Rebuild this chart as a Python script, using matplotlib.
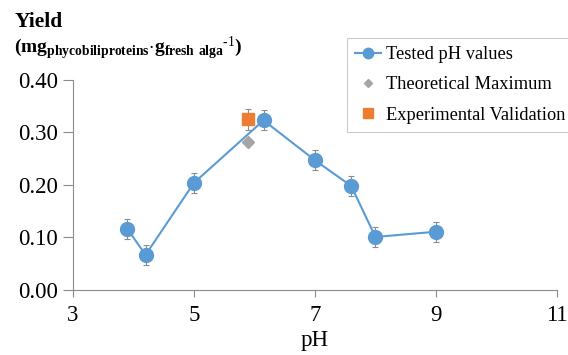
import matplotlib.pyplot as plt

plt.rcParams["font.family"] = "Liberation Serif"
plt.rcParams["mathtext.fontset"] = "custom"
plt.rcParams["mathtext.rm"] = "Liberation Serif"
plt.rcParams["mathtext.bf"] = "Liberation Serif:bold"

# data
ph_tested = [3.9, 4.2, 5.0, 6.15, 7.0, 7.6, 8.0, 9.0]
yield_tested = [0.116, 0.067, 0.204, 0.323, 0.247, 0.198, 0.101, 0.111]
err_tested = [0.019, 0.019, 0.019, 0.019, 0.019, 0.019, 0.019, 0.019]

ph_theo = [5.9]
yield_theo = [0.281]

ph_exp = [5.9]
yield_exp = [0.325]
err_exp = [0.020]

blue = "#5B9BD5"
orange = "#ED7D31"
grey = "#A5A5A5"

fig = plt.figure(figsize=(5.68, 3.55), dpi=100)
ax = fig.add_axes([0.1285, 0.183, 0.852, 0.592])

ax.errorbar(ph_tested, yield_tested, yerr=err_tested, fmt="none",
            ecolor="#8C8C8C", elinewidth=0.8, capsize=2.5, capthick=0.8, zorder=2)
ax.errorbar(ph_exp, yield_exp, yerr=err_exp, fmt="none",
            ecolor="#8C8C8C", elinewidth=0.8, capsize=2.5, capthick=0.8, zorder=2)
ax.plot(ph_tested, yield_tested, "-o", color=blue, lw=1.5, ms=10,
        label="Tested pH values", zorder=3)
ax.plot(ph_theo, yield_theo, "D", color=grey, ms=6, ls="none",
        label="Theoretical Maximum", zorder=3)
ax.plot(ph_exp, yield_exp, "s", color=orange, ms=9, ls="none",
        label="Experimental Validation", zorder=3)

ax.set_xlim(3, 11)
ax.set_ylim(0, 0.40)
ax.set_xticks([3, 5, 7, 9, 11])
ax.set_yticks([0.0, 0.1, 0.2, 0.3, 0.4])
ax.set_yticklabels(["%.2f" % v for v in [0.0, 0.1, 0.2, 0.3, 0.4]])
ax.tick_params(labelsize=16.5, color="#8C8C8C", width=0.8)
ax.tick_params(axis="y", length=7, pad=4)
ax.tick_params(axis="x", length=5, pad=6)
ax.spines["top"].set_visible(False)
ax.spines["right"].set_visible(False)
for s in ["left", "bottom"]:
    ax.spines[s].set_color("#8C8C8C")
    ax.spines[s].set_linewidth(0.8)

ax.set_xlabel("pH", fontsize=16.5, labelpad=3)

fig.text(0.025, 0.924, "Yield", fontsize=15.5, fontweight="bold", va="baseline")
fig.text(0.025, 0.850,
         r"$\mathbf{(mg_{phycobiliproteins}{\cdot}g_{fresh\ alga}{}^{\text{-1}})}$",
         fontsize=14, va="baseline")

leg = fig.legend(loc="upper left", bbox_to_anchor=(0.611, 0.893), fontsize=13.2,
                 frameon=True, fancybox=False, edgecolor="#BFBFBF",
                 handlelength=1.4, borderpad=0.45, labelspacing=0.72,
                 handletextpad=0.3, borderaxespad=0, markerscale=0.75)
leg.get_frame().set_linewidth(0.8)

fig.savefig("out.png", dpi=100)
